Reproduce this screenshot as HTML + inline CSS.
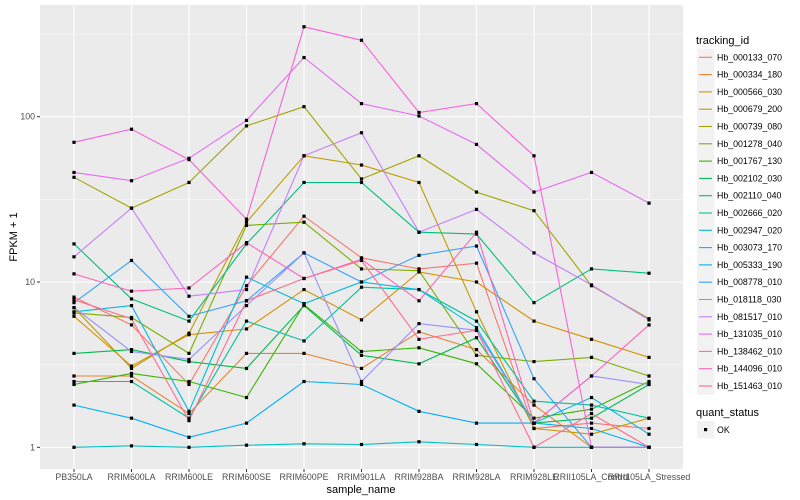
<!DOCTYPE html>
<html><head><meta charset="utf-8"><style>
body{margin:0;background:#fff;}
svg{display:block;font-family:"Liberation Sans",sans-serif;}
</style></head><body>
<svg id="chart" width="800" height="500" viewBox="0 0 800 500">
<rect x="0" y="0" width="800" height="500" fill="#fff"/>
<rect x="40" y="5" width="643" height="464" fill="#EBEBEB"/>
<g id="grid"></g><g id="lines"></g><g id="points"></g><g id="axes"></g><g id="legend"></g>
</svg>
<script>
const samples=["PB350LA","RRIM600LA","RRIM600LE","RRIM600SE","RRIM600PE","RRIM901LA","RRIM928BA","RRIM928LA","RRIM928LE","RRII105LA_Control","RRII105LA_Stressed"];
const seriesIds=["Hb_000133_070","Hb_000334_180","Hb_000566_030","Hb_000679_200","Hb_000739_080","Hb_001278_040","Hb_001767_130","Hb_002102_030","Hb_002110_040","Hb_002666_020","Hb_002947_020","Hb_003073_170","Hb_005333_190","Hb_008778_010","Hb_018118_030","Hb_081517_010","Hb_131035_010","Hb_138462_010","Hb_144096_010","Hb_151463_010"];
const seriesColors=["#F8766D","#EA8331","#D89000","#C09B00","#A3A500","#7CAE00","#39B600","#00BB4E","#00BF7D","#00C1A3","#00BFC4","#00BAE0","#00B0F6","#35A2FF","#9590FF","#C77CFF","#E76BF3","#FA62DB","#FF62BC","#FF6C91"];
const s01=[8.1,5.5,2.4,9.5,25,14,12,13,1.3,1.4,1.3];
const s02=[2.7,2.7,1.6,3.7,3.7,3.0,5.0,3.9,1.8,1.0,1.0];
const s03=[6.2,3.1,4.8,5.2,9,5.9,11.5,10,5.8,4.5,3.5];
const s04=[7.0,3.0,4.9,23,58,51,40,6.6,1.3,1.2,1.5];
const s05=[43,28,40,88,115,42,58,35,27,9.5,6];
const s06=[6.5,6.1,3.7,22,23,12,11.7,3.6,3.3,3.5,2.7];
const s07=[2.4,2.8,2.5,2.0,7.3,3.8,4.0,3.2,1.5,1.7,2.5];
const s08=[3.7,3.9,3.3,3.0,7.2,3.6,3.2,4.6,1.4,1.5,2.4];
const s09=[17,7.9,5.8,17,40,40,20,19.5,7.5,12,11.3];
const s10=[2.5,2.5,1.5,5.8,4.4,9.3,9,5.8,1.9,1.8,1.5];
const s11=[1.0,1.02,1.0,1.03,1.05,1.04,1.08,1.04,1.0,1.0,1.0];
const s12=[6.6,7.2,1.65,10.7,7.4,10,9,5.3,1.4,2.0,1.2];
const s13=[1.8,1.5,1.15,1.4,2.5,2.4,1.65,1.4,1.4,1.3,1.0];
const s14=[7.5,13.5,6.2,7.7,15,10,14.5,16.5,2.6,1.0,1.0];
const s15=[7.0,3.8,3.4,7.2,15,2.5,5.6,5.1,1.4,2.7,2.4];
const s16=[14.2,28,8.2,9,58,80,20,27.5,15,9.6,5.9];
const s17=[46,41,56,95,228,120,101,68,35,46,30];
const s18=[70,84,55,24,350,290,106,120,58,1.0,1.0];
const s19=[11.2,8.8,9.2,17.3,10.5,13.7,7.7,20,1.4,2.7,5.5];
const s20=[7.8,6.0,1.45,7.7,10.5,13.5,4.5,5.1,1.0,1.6,1.0];
const seriesValues=[s01,s02,s03,s04,s05,s06,s07,s08,s09,s10,s11,s12,s13,s14,s15,s16,s17,s18,s19,s20];
const yTickValues=[1,10,100];
const yTickLabels=["1","10","100"];

const NS="http://www.w3.org/2000/svg";
function mk(tag,attrs,parent){const e=document.createElementNS(NS,tag);for(const k in attrs)e.setAttribute(k,attrs[k]);parent.appendChild(e);return e;}
const xScale=i=>74+i*57.5;
const yScale=v=>447.3-Math.log10(v)*165.3;
const grid=document.getElementById('grid'),lines=document.getElementById('lines'),pts=document.getElementById('points'),axes=document.getElementById('axes'),leg=document.getElementById('legend');

[0.5,1.5,2.5].forEach(p=>{const y=yScale(Math.pow(10,p));if(y>5&&y<469){
 const l=mk('line',{x1:40,x2:683,y1:y,y2:y,stroke:'#fff','stroke-width':0.5},grid);
 
 }});
yTickValues.forEach((v,i)=>{const y=yScale(v);
 const l=mk('line',{x1:40,x2:683,y1:y,y2:y,stroke:'#fff','stroke-width':1.1},grid);
 
 
 const t=mk('line',{x1:37,x2:40,y1:y,y2:y,stroke:'#333','stroke-width':1},axes);
 
 
 const tx=mk('text',{x:35,y:y+3,'text-anchor':'end','font-size':'8.8',fill:'#4D4D4D'},axes);
 tx.textContent=yTickLabels[i];
 
 });
samples.forEach((s,i)=>{const x=xScale(i);
 const l=mk('line',{x1:x,x2:x,y1:5,y2:469,stroke:'#fff','stroke-width':1.1},grid);
 
 
 const t=mk('line',{x1:x,x2:x,y1:469,y2:472,stroke:'#333','stroke-width':1},axes);
 
 
 const tx=mk('text',{x:x,y:480,'text-anchor':'middle','font-size':'8.8',fill:'#4D4D4D'},axes);
 tx.textContent=s;
 
 });

seriesValues.forEach((vals,si)=>{
 const d=vals.map((v,i)=>(i?'L':'M')+xScale(i).toFixed(1)+','+yScale(v).toFixed(1)).join(' ');
 const p=mk('path',{d:d,fill:'none',stroke:seriesColors[si],'stroke-width':1.1},lines);
 
 
 vals.forEach((v,i)=>{
  const r=mk('rect',{x:xScale(i)-1.6,y:yScale(v)-1.6,width:3.2,height:3.2,fill:'#000'},pts);
  
  });
});

const yt=mk('text',{x:0,y:0,transform:'translate(17,237) rotate(-90)','text-anchor':'middle','font-size':'11',fill:'#000'},axes);
yt.textContent='FPKM + 1';


const xt=mk('text',{x:361,y:493,'text-anchor':'middle','font-size':'11',fill:'#000'},axes);
xt.textContent='sample_name';



const lt=mk('text',{x:696,y:44,'font-size':'11',fill:'#000'},leg);
lt.textContent='tracking_id';


seriesIds.forEach((id,i)=>{const cy=57.3+i*17.3;
 const g=mk('g',{},leg);
 
 
 mk('rect',{x:697,y:cy-8.6,width:17.3,height:17.3,fill:'#F2F2F2'},g);
 mk('line',{x1:699,x2:712,y1:cy,y2:cy,stroke:seriesColors[i],'stroke-width':1.1},g);
 const t=mk('text',{x:717,y:cy+3,'font-size':'8.8',fill:'#000'},g);
 t.textContent=id;});
const qt=mk('text',{x:696,y:416,'font-size':'11',fill:'#000'},leg);
qt.textContent='quant_status';


const qg=mk('g',{},leg);


mk('rect',{x:697,y:421,width:17.3,height:17.3,fill:'#F2F2F2'},qg);
mk('rect',{x:704,y:428,width:3.2,height:3.2,fill:'#000'},qg);
const ok=mk('text',{x:717,y:433,'font-size':'8.8',fill:'#000'},qg);
ok.textContent='OK';
</script>
</body></html>
